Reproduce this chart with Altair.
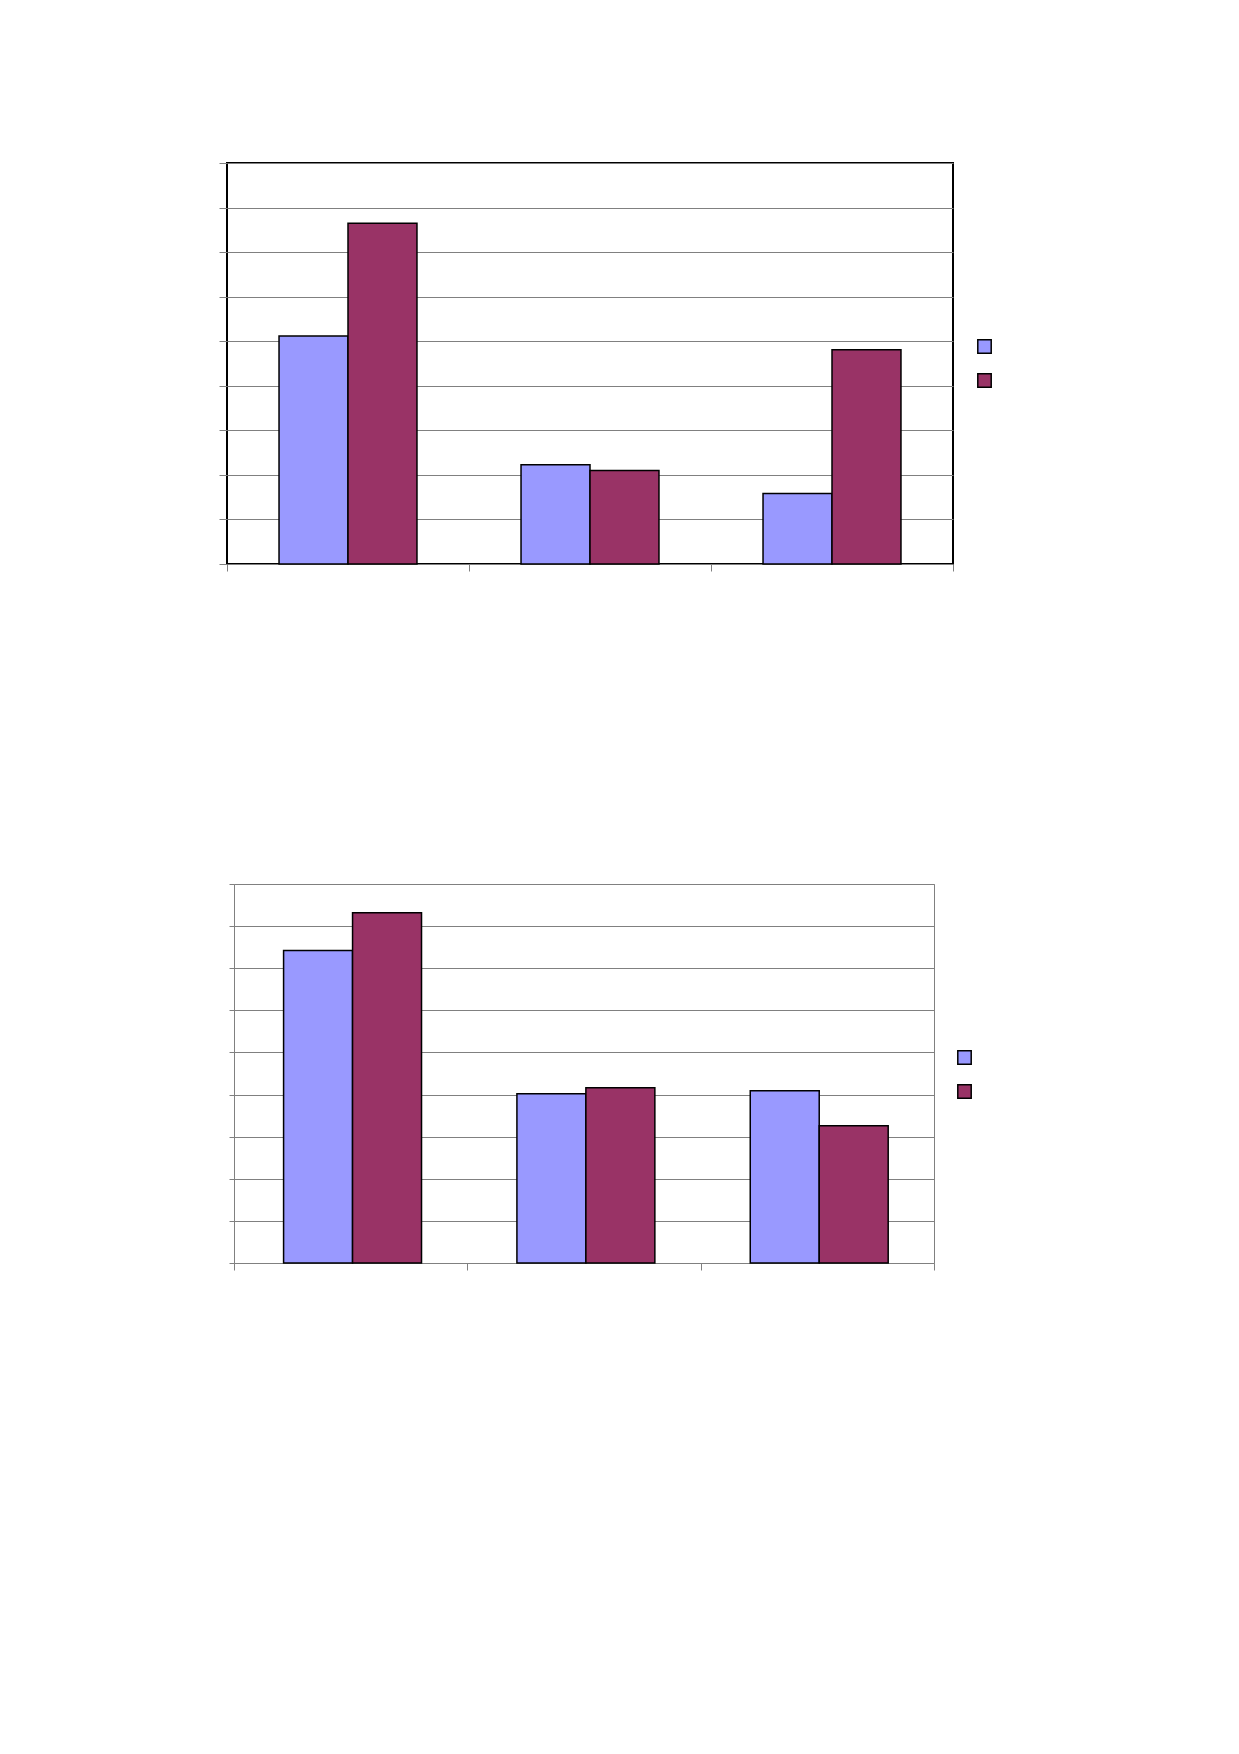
import altair as alt
import pandas as pd

categories = ["A", "B", "C"]
series = ["Series 1", "Series 2"]
colors = ["#9999FF", "#993366"]

top_blue = [5.12, 2.23, 1.58]
top_red = [7.65, 2.10, 4.81]
bottom_blue = [7.42, 4.02, 4.09]
bottom_red = [8.32, 4.16, 3.26]

y_ticks = list(range(10))


def make_df(blue, red):
    rows = []
    for c, vb, vr in zip(categories, blue, red):
        rows.append({"cat": c, "series": series[0], "value": vb})
        rows.append({"cat": c, "series": series[1], "value": vr})
    return pd.DataFrame(rows)


def panel(df, width, height, pad_inner, ytick, frame_color, frame_width,
          legend_x, legend_y):
    step = width / len(categories)
    band_pos = 1.0 / (1.0 - pad_inner)
    tick_off = -step * pad_inner / 2
    return alt.Chart(df).mark_bar(stroke="black", strokeWidth=1.5).encode(
        x=alt.X(
            "cat:N", sort=categories, title=None,
            scale=alt.Scale(paddingInner=pad_inner, paddingOuter=pad_inner / 2),
            axis=alt.Axis(labels=False, bandPosition=band_pos, tickOffset=tick_off,
                          tickExtra=True, tickSize=7,
                          tickColor="#808080", tickWidth=1, domain=False, grid=False),
        ),
        xOffset=alt.XOffset("series:N", sort=series),
        y=alt.Y(
            "value:Q", title=None,
            scale=alt.Scale(domain=[0, 9], nice=False, zero=True),
            axis=alt.Axis(values=y_ticks, labels=False, tickSize=ytick,
                          tickColor="#808080", tickWidth=1,
                          gridColor="#808080", gridWidth=1, domain=False),
        ),
        color=alt.Color(
            "series:N", sort=series,
            scale=alt.Scale(domain=series, range=colors),
            legend=alt.Legend(title=None, orient="none", legendX=legend_x,
                              legendY=legend_y, symbolType="square",
                              symbolSize=180, symbolStrokeColor="black",
                              symbolStrokeWidth=1.5, labelExpr="''",
                              rowPadding=13, padding=0),
        ),
    ).properties(
        width=width, height=height,
        view=alt.ViewBackground(stroke=frame_color, strokeWidth=frame_width),
    )


top = panel(make_df(top_blue, top_red), 726, 401, 0.43, 8,
            "black", 2, 750, 176)
bottom = panel(make_df(bottom_blue, bottom_red), 700, 379, 0.425, 5,
               "#808080", 1, 730, 166)

# nearly empty, very narrow cell that lets the lower plot sit a few pixels to the right
spacer = alt.Chart(pd.DataFrame({"s": [0]})).mark_point(size=0, opacity=0).properties(
    width=0.01, height=1, view=alt.ViewBackground(strokeWidth=0)
)

chart = alt.vconcat(
    top, alt.hconcat(spacer, bottom, spacing=0), spacing=310
).resolve_scale(
    color="independent"
).resolve_legend(color="independent").properties(
    padding={"left": 209, "top": 153, "right": 5, "bottom": 5}
)

chart.save("out.html", embed_options={"renderer": "svg", "actions": False})
